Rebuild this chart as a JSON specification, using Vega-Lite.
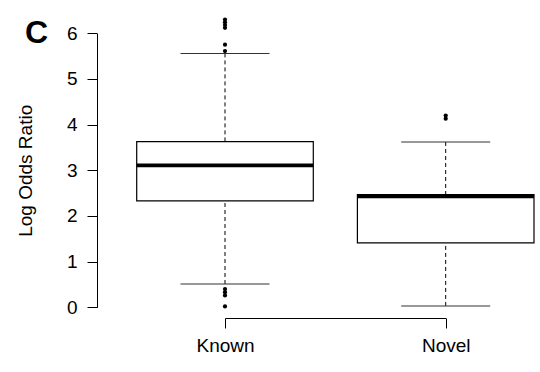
{
  "$schema": "https://vega.github.io/schema/vega-lite/v6.json",
  "autosize": "none",
  "padding": {"left": 97, "top": 8, "right": 2, "bottom": 54},
  "width": 441,
  "height": 310,
  "background": "white",
  "title": {"text": "C", "anchor": "start", "frame": "group", "orient": "top", "offset": 0, "dx": -72, "dy": 67, "baseline": "alphabetic", "fontSize": 32, "fontWeight": "bold", "font": "Liberation Sans", "color": "black"},
  "config": {
    "view": {"stroke": null},
    "font": "Liberation Sans",
    "axis": {"grid": false, "domainColor": "black", "tickColor": "black", "domainWidth": 1, "tickWidth": 1, "tickSize": 10, "labelColor": "black", "labelFontSize": 19, "labelFont": "Liberation Sans", "titleFont": "Liberation Sans", "titleFontSize": 19, "titleFontWeight": "normal", "titleColor": "black"}
  },
  "datasets": {
    "stats": [
      {"group": "Known", "lo": 0.51, "q1": 2.33, "median": 3.11, "q3": 3.63, "hi": 5.56},
      {"group": "Novel", "lo": 0.03, "q1": 1.41, "median": 2.43, "q3": 2.47, "hi": 3.62}
    ],
    "outliers": [
      {"group": "Known", "value": 6.3},
      {"group": "Known", "value": 6.24},
      {"group": "Known", "value": 6.18},
      {"group": "Known", "value": 6.12},
      {"group": "Known", "value": 5.75},
      {"group": "Known", "value": 5.61},
      {"group": "Known", "value": 0.4},
      {"group": "Known", "value": 0.33},
      {"group": "Known", "value": 0.26},
      {"group": "Known", "value": 0.02},
      {"group": "Novel", "value": 4.2},
      {"group": "Novel", "value": 4.13}
    ]
  },
  "encoding": {
    "x": {"field": "group", "type": "nominal", "scale": {"type": "point", "range": [128, 348.7], "padding": 0}, "axis": {"title": null, "labelAngle": 0, "labelPadding": 8, "orient": "bottom"}}
  },
  "layer": [
    {
      "data": {"name": "stats"},
      "mark": {"type": "rule", "strokeDash": [4, 3], "color": "black", "strokeWidth": 1},
      "encoding": {
        "y": {"field": "hi", "type": "quantitative", "scale": {"domain": [0, 6], "range": [299.3, 25.3], "nice": false, "zero": false}, "axis": {"title": "Log Odds Ratio", "values": [0, 1, 2, 3, 4, 5, 6], "labelPadding": 10, "titlePadding": 31}},
        "y2": {"field": "q3"}
      }
    },
    {
      "data": {"name": "stats"},
      "mark": {"type": "rule", "strokeDash": [4, 3], "color": "black", "strokeWidth": 1},
      "encoding": {
        "y": {"field": "lo", "type": "quantitative"},
        "y2": {"field": "q1"}
      }
    },
    {
      "data": {"name": "stats"},
      "mark": {"type": "bar", "width": 176.6, "fill": "white", "stroke": "black", "strokeWidth": 1.2},
      "encoding": {
        "y": {"field": "q1", "type": "quantitative"},
        "y2": {"field": "q3"}
      }
    },
    {
      "data": {"name": "stats"},
      "mark": {"type": "tick", "size": 176.6, "thickness": 3.7, "color": "black", "opacity": 1},
      "encoding": {
        "y": {"field": "median", "type": "quantitative"}
      }
    },
    {
      "data": {"name": "stats"},
      "mark": {"type": "tick", "size": 89, "thickness": 1, "color": "#333333", "opacity": 1},
      "encoding": {
        "y": {"field": "hi", "type": "quantitative"}
      }
    },
    {
      "data": {"name": "stats"},
      "mark": {"type": "tick", "size": 89, "thickness": 1, "color": "#333333", "opacity": 1},
      "encoding": {
        "y": {"field": "lo", "type": "quantitative"}
      }
    },
    {
      "data": {"name": "outliers"},
      "mark": {"type": "circle", "size": 18, "color": "black", "opacity": 1},
      "encoding": {
        "y": {"field": "value", "type": "quantitative"}
      }
    }
  ]
}
